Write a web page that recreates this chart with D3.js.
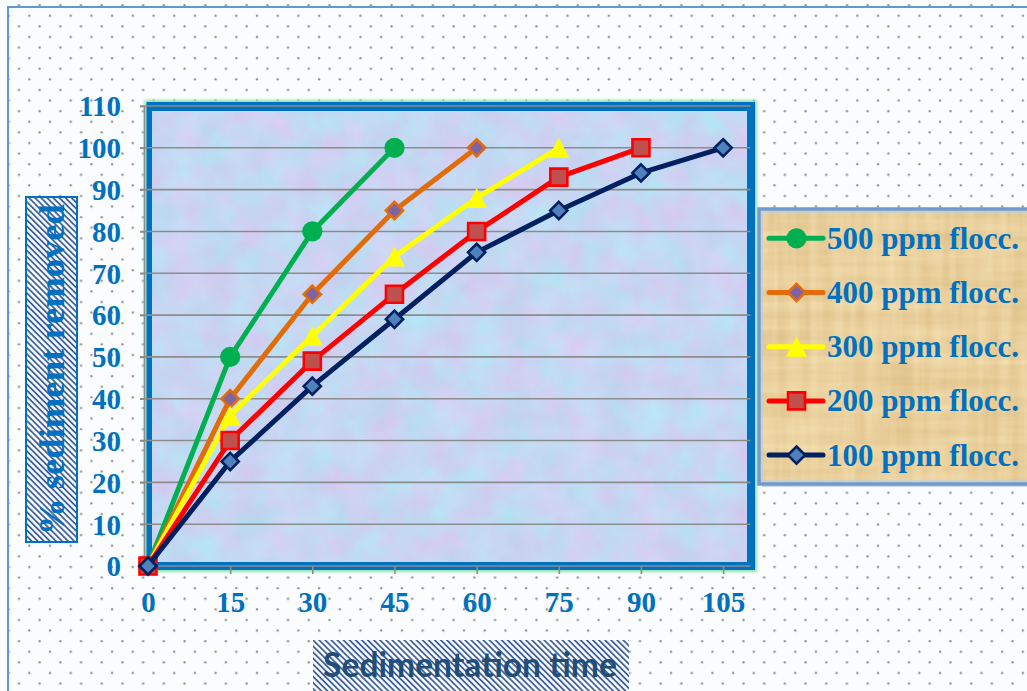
<!DOCTYPE html>
<html>
<head>
<meta charset="utf-8">
<script src="https://cdn.jsdelivr.net/npm/d3@7"></script>
<style>
  html, body { margin: 0; padding: 0; background: #ffffff; }
  svg { display: block; }
</style>
</head>
<body>
<svg id="chart" width="1027" height="691"></svg>
<script>
// Sedimentation time (min) on the x axis, % sediment removed on the y axis
const timeTicks = [0, 15, 30, 45, 60, 75, 90, 105];
const pctTicks = [0, 10, 20, 30, 40, 50, 60, 70, 80, 90, 100, 110];
const sedimentationTime = [0, 15, 30, 45, 60, 75, 90, 105];

const removed500 = [0, 50, 80, 100];
const removed400 = [0, 40, 65, 85, 100];
const removed300 = [0, 36, 55, 74, 88, 100];
const removed200 = [0, 30, 49, 65, 80, 93, 100];
const removed100 = [0, 25, 43, 59, 75, 85, 94, 100];

const seriesLabels = ["500 ppm flocc.", "400 ppm flocc.", "300 ppm flocc.", "200 ppm flocc.", "100 ppm flocc."];
const xTitle = "Sedimentation time";
const yTitle = "% sediment removed";

// visual style for each dose
const styles = [
  { line: "#00b050", marker: "circle",   fill: "#00b050", stroke: "none" },
  { line: "#e36c09", marker: "diamond",  fill: "#8064a2", stroke: "#e36c09" },
  { line: "#ffff00", marker: "triangle", fill: "#ffff00", stroke: "none" },
  { line: "#ff0000", marker: "square",   fill: "#c0504d", stroke: "#ff0000" },
  { line: "#002060", marker: "diamond",  fill: "#4f81bd", stroke: "#002060" }
];
const seriesValues = [removed500, removed400, removed300, removed200, removed100];

const W = 1027, H = 691;
const svg = d3.select("#chart");
const defs = svg.append("defs");

const x = d3.scaleLinear().domain([0, 110]).range([148, 750.5]);
const y = d3.scaleLinear().domain([0, 110]).range([566, 106]);

const serif = "'Liberation Serif', 'Times New Roman', serif";
const labelBlue = "#0070c0";

// ---------- patterns & filters ----------
const dots = defs.append("pattern").attr("id", "dots")
  .attr("patternUnits", "userSpaceOnUse")
  .attr("x", 24.3).attr("y", 10.7).attr("width", 20.7).attr("height", 21.2);
dots.append("circle").attr("cx", 5).attr("cy", 5).attr("r", 1.15).attr("fill", "#8f8f8f");
dots.append("circle").attr("cx", 15.35).attr("cy", 15.6).attr("r", 1.15).attr("fill", "#8f8f8f");

const hatch = defs.append("pattern").attr("id", "hatch")
  .attr("patternUnits", "userSpaceOnUse")
  .attr("width", 4.3).attr("height", 4.3)
  .attr("patternTransform", "rotate(-45)");
hatch.append("rect").attr("width", 4.3).attr("height", 4.3).attr("fill", "#ffffff");
hatch.append("line").attr("x1", 1).attr("y1", 0).attr("x2", 1).attr("y2", 4.3)
  .attr("stroke", "#2f5597").attr("stroke-width", 1.7);

// mottled blue-lavender plot fill
const mottle = defs.append("filter").attr("id", "mottle")
  .attr("x", 0).attr("y", 0).attr("width", 1).attr("height", 1)
  .attr("color-interpolation-filters", "sRGB");
mottle.append("feTurbulence").attr("type", "fractalNoise")
  .attr("baseFrequency", "0.03").attr("numOctaves", 4).attr("seed", 7).attr("result", "n");
mottle.append("feColorMatrix").attr("type", "matrix").attr("values",
  "0.20 0 0 0 0.68  " +
  "-0.12 0.08 0 0 0.86  " +
  "0 0.04 0 0 0.93  " +
  "0 0 0 0 1");

// papyrus-like legend fill
const papyrus = defs.append("filter").attr("id", "papyrus")
  .attr("x", 0).attr("y", 0).attr("width", 1).attr("height", 1)
  .attr("color-interpolation-filters", "sRGB");
papyrus.append("feTurbulence").attr("type", "fractalNoise")
  .attr("baseFrequency", "0.006 0.09").attr("numOctaves", 3).attr("seed", 2).attr("result", "h");
papyrus.append("feTurbulence").attr("type", "fractalNoise")
  .attr("baseFrequency", "0.09 0.006").attr("numOctaves", 3).attr("seed", 5).attr("result", "v");
papyrus.append("feComposite").attr("in", "h").attr("in2", "v").attr("operator", "arithmetic")
  .attr("k1", 0).attr("k2", 0.5).attr("k3", 0.5).attr("k4", 0).attr("result", "mix");
papyrus.append("feColorMatrix").attr("in", "mix").attr("type", "matrix").attr("values",
  "0.13 0 0 0 0.85  " +
  "0.19 0 0 0 0.72  " +
  "0.25 0 0 0 0.49  " +
  "0 0 0 0 1");

const soft = defs.append("filter").attr("id", "soft")
  .attr("x", -0.05).attr("y", -0.05).attr("width", 1.1).attr("height", 1.1);
soft.append("feGaussianBlur").attr("stdDeviation", 1.5);

// ---------- background ----------
svg.append("rect").attr("width", W).attr("height", H).attr("fill", "#fbfcfe");
svg.append("rect").attr("width", W).attr("height", H).attr("fill", "url(#dots)");
svg.append("path").attr("d", `M8,${H} V7 H${W}`)
  .attr("fill", "none").attr("stroke", "#5b9bd5").attr("stroke-width", 2);

// ---------- axis titles ----------
const yBox = { x: 26, y: 197, w: 51, h: 345 };
svg.append("rect").attr("x", yBox.x).attr("y", yBox.y).attr("width", yBox.w).attr("height", yBox.h)
  .attr("fill", "url(#hatch)").attr("stroke", "#0070c0").attr("stroke-width", 2);
const yt = svg.append("text")
  .attr("transform", `translate(${yBox.x + yBox.w / 2 + 12},${yBox.y + yBox.h / 2}) rotate(-90)`)
  .attr("text-anchor", "middle")
  .attr("font-family", serif).attr("font-weight", "bold").attr("font-size", 36)
  .attr("fill", labelBlue).text(yTitle);

const xBox = { x: 313, y: 640, w: 316, h: 60 };
svg.append("rect").attr("x", xBox.x).attr("y", xBox.y).attr("width", xBox.w).attr("height", xBox.h)
  .attr("fill", "url(#hatch)");
const xt = svg.append("text")
  .attr("x", 470).attr("y", 677)
  .attr("text-anchor", "middle")
  .attr("font-family", "Lato, 'Open Sans', sans-serif").attr("font-weight", "bold").attr("font-size", 33)
  .attr("fill", "#1f4e79").text(xTitle);

// fit the titles to their boxes
function fitText(sel, target) {
  const len = sel.node().getComputedTextLength();
  const fs = +sel.attr("font-size");
  sel.attr("font-size", (fs * target / len).toFixed(2));
}
fitText(yt, 331);
fitText(xt, 294);

// ---------- plot frame ----------
const px0 = x(0) - 1.5, px1 = x(110) + 4.5, py0 = y(110) - 4, py1 = y(0) + 4;
svg.append("rect").attr("x", px0 - 2).attr("y", py0 - 2)
  .attr("width", px1 - px0 + 4).attr("height", py1 - py0 + 4)
  .attr("fill", "#8fe0aa").attr("filter", "url(#soft)");
svg.append("rect").attr("x", px0).attr("y", py0)
  .attr("width", px1 - px0).attr("height", py1 - py0).attr("fill", "#0070c0");
svg.append("rect").attr("x", px0 + 5.5).attr("y", py0 + 9)
  .attr("width", px1 - px0 - 13.5).attr("height", py1 - py0 - 17)
  .attr("fill", "#c7d4f2").attr("filter", "url(#mottle)");

// gridlines
svg.append("g").selectAll("line").data(pctTicks).join("line")
  .attr("x1", 140).attr("x2", x(110))
  .attr("y1", d => y(d)).attr("y2", d => y(d))
  .attr("stroke", "#8c8c8c").attr("stroke-width", 1.6);

// y axis
const yAxis = svg.append("g").attr("transform", "translate(144,0)")
  .call(d3.axisLeft(y).tickValues(pctTicks).tickSizeInner(4).tickSizeOuter(0).tickPadding(19));
yAxis.select(".domain").attr("stroke", "#8c8c8c").attr("stroke-width", 1.6);
yAxis.selectAll(".tick line").attr("stroke", "#8c8c8c").attr("stroke-width", 1.6);
yAxis.selectAll(".tick text")
  .attr("font-family", serif).attr("font-weight", "bold").attr("font-size", 29)
  .attr("fill", labelBlue).attr("dy", "0.34em");

// x axis
const xAxis = svg.append("g").attr("transform", `translate(0,${y(0)})`)
  .call(d3.axisBottom(x).tickValues(timeTicks).tickSizeInner(8).tickSizeOuter(0).tickPadding(0));
xAxis.select(".domain").remove();
xAxis.selectAll(".tick line").attr("stroke", "#8c8c8c").attr("stroke-width", 1.6);
xAxis.selectAll(".tick text")
  .attr("font-family", serif).attr("font-weight", "bold").attr("font-size", 29)
  .attr("fill", labelBlue).attr("y", 46).attr("dy", null);

// ---------- markers ----------
function markerPath(kind) {
  switch (kind) {
    case "circle":   return d3.symbol(d3.symbolCircle, 320)();
    case "square":   return "M-8.5,-8.5H8.5V8.5H-8.5Z";
    case "diamond":  return "M0,-8.6L8.6,0L0,8.6L-8.6,0Z";
    case "triangle": return "M0,-10L10.5,10L-10.5,10Z";
  }
}
function drawMarker(g, st, cx, cy) {
  g.append("path").attr("d", markerPath(st.marker))
    .attr("transform", `translate(${cx},${cy})`)
    .attr("fill", st.fill)
    .attr("stroke", st.stroke)
    .attr("stroke-width", st.stroke === "none" ? 0 : 2.6)
    .attr("stroke-linejoin", "miter");
}

// ---------- series ----------
const line = d3.line().x(d => x(d[0])).y(d => y(d[1]));
seriesValues.forEach((vals, i) => {
  const st = styles[i];
  const pts = vals.map((v, k) => [sedimentationTime[k], v]);
  const g = svg.append("g");
  g.append("path").attr("d", line(pts))
    .attr("fill", "none").attr("stroke", st.line).attr("stroke-width", 5)
    .attr("stroke-linejoin", "round").attr("stroke-linecap", "round");
  pts.forEach(p => drawMarker(g, st, x(p[0]), y(p[1])));
});

// ---------- legend ----------
const lg = svg.append("g");
const L = { x: 759, y: 209, w: 290, h: 275 };
lg.append("rect").attr("x", L.x + 3).attr("y", L.y + 3).attr("width", L.w).attr("height", L.h)
  .attr("fill", "#a9c0df").attr("opacity", 0.6);
lg.append("rect").attr("x", L.x).attr("y", L.y).attr("width", L.w).attr("height", L.h)
  .attr("fill", "#e8cf9c").attr("filter", "url(#papyrus)");
lg.append("rect").attr("x", L.x).attr("y", L.y).attr("width", L.w).attr("height", L.h)
  .attr("fill", "none").attr("stroke", "#6d9bd1").attr("stroke-width", 3.5);
lg.append("rect").attr("x", L.x + 3).attr("y", L.y + 3).attr("width", L.w - 6).attr("height", L.h - 6)
  .attr("fill", "none").attr("stroke", "#b7cde8").attr("stroke-width", 1.2);

seriesLabels.forEach((lab, i) => {
  const st = styles[i];
  const cy = 238.3 + i * 54.2;
  lg.append("line").attr("x1", 769).attr("x2", 823).attr("y1", cy).attr("y2", cy)
    .attr("stroke", st.line).attr("stroke-width", 5).attr("stroke-linecap", "round");
  drawMarker(lg, st, 796.5, cy);
  lg.append("text").attr("x", 827).attr("y", cy + 10.5)
    .attr("font-family", serif).attr("font-weight", "bold").attr("font-size", 31)
    .attr("fill", labelBlue).text(lab);
});
</script>
</body>
</html>
